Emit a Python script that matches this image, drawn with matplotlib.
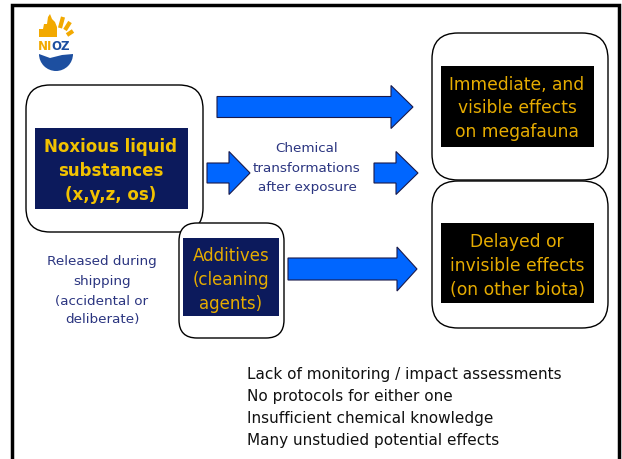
import numpy as np
import matplotlib.pyplot as plt
from matplotlib.patches import FancyBboxPatch, Rectangle, Polygon, Wedge

# ---------- texts ----------
source_lines = ["Noxious liquid", "substances", "(x,y,z, os)"]
additive_lines = ["Additives", "(cleaning", "agents)"]
immediate_lines = ["Immediate, and", "visible effects", "on megafauna"]
delayed_lines = ["Delayed or", "invisible effects", "(on other biota)"]
transform_lines = ["Chemical", "transformations", "after exposure"]
release_lines = ["Released during", "shipping", "(accidental or", "deliberate)"]
issues = ["Lack of monitoring / impact assessments",
          "No protocols for either one",
          "Insufficient chemical knowledge",
          "Many unstudied potential effects"]

NAVY = "#0c1a5c"
YELLOW = "#f2c200"
ORANGE = "#e6ac00"
BLUE = "#0066ff"
TXT = "#2b3580"
LOGO_Y = "#f2a900"
LOGO_B = "#1d4fa0"

W, H = 622, 459
fig = plt.figure(figsize=(W / 100, H / 100), dpi=100)
ax = fig.add_axes([0, 0, 1, 1])
ax.set_xlim(0, W)
ax.set_ylim(H, 0)
ax.axis("off")
ax.set_autoscale_on(False)

# slide frame (no bottom edge)
ax.plot([12, 12, 619, 619], [H + 5, 5, 5, H + 5], color="black", lw=2.5,
        solid_joinstyle="miter")


def rbox(x0, y0, x1, y1, r=22):
    ax.add_patch(FancyBboxPatch((x0 + r, y0 + r), x1 - x0 - 2 * r, y1 - y0 - 2 * r,
                                boxstyle=f"round,pad={r}", fc="white", ec="black",
                                lw=1.0, zorder=1))


def fillbox(x0, y0, x1, y1, color):
    ax.add_patch(Rectangle((x0, y0), x1 - x0, y1 - y0, fc=color, ec="none", zorder=2))


def lines(cx, ys, txt, **kw):
    for y, t in zip(ys, txt):
        ax.text(cx, y, t, ha="center", va="center", zorder=3, **kw)


def arrow(x0, x1, xh, yc, bh, hh):
    pts = [(x0, yc - bh / 2), (x1, yc - bh / 2), (x1, yc - hh / 2), (xh, yc),
           (x1, yc + hh / 2), (x1, yc + bh / 2), (x0, yc + bh / 2)]
    ax.add_patch(Polygon(pts, closed=True, fc=BLUE, ec="#1a1a4a", lw=0.8, zorder=2))


# rounded boxes
rbox(26, 85, 203, 232, r=24)
rbox(432, 33, 608, 180, r=26)
rbox(432, 181, 608, 328, r=26)
rbox(179, 223, 284, 338, r=18)

# filled boxes
fillbox(35, 128, 188, 209, NAVY)
fillbox(441, 66, 594, 147, "black")
fillbox(441, 223, 594, 303, "black")
fillbox(183, 238, 279, 316, NAVY)

lines(111, [147, 171, 195], source_lines, color=YELLOW, fontsize=12,
      fontweight="bold")
lines(517, [85, 108, 132], immediate_lines, color=ORANGE, fontsize=12.3)
lines(517, [242, 266, 290], delayed_lines, color=ORANGE, fontsize=12.3)
lines(231, [256, 280, 304], additive_lines, color=ORANGE, fontsize=12)

# arrows
arrow(217, 391, 413, 107, 21, 43)
arrow(207, 229, 250, 173, 20, 43)
arrow(374, 396, 418, 173, 20, 43)
arrow(288, 397, 417, 269, 22, 44)

lines(307, [148, 168, 188], transform_lines, color=TXT, fontsize=9.7)
lines(102, [261, 281, 301, 320], release_lines, color=TXT, fontsize=9.7)

for i, t in enumerate(issues):
    ax.text(247, 374 + i * 22, t, ha="left", va="center", color="#111111",
            fontsize=11)

# NIOZ logo (approximate)
ax.add_patch(Polygon([(39, 37), (39, 29), (43, 29), (44, 24), (47, 24),
                      (48, 17), (50, 14), (52, 19), (55, 22), (57, 27),
                      (57, 37)], closed=True, fc=LOGO_Y, ec="none"))
for x0, y0, x1, y1 in [(60, 28, 63, 17), (65, 30, 70, 22), (67, 35, 73, 31)]:
    ax.plot([x0, x1], [y0, y1], color=LOGO_Y, lw=3, solid_capstyle="butt")
ax.text(38, 46, "NI", color=LOGO_Y, fontsize=8.5, fontweight="bold",
        va="center", ha="left")
ax.text(51, 46, "OZ", color=LOGO_B, fontsize=8.5, fontweight="bold",
        va="center", ha="left")
ax.add_patch(Wedge((56, 54), 17, 0, 180, fc=LOGO_B, ec="none"))
ax.add_patch(Polygon([(39, 54), (50, 58), (62, 55), (73, 54), (73, 53),
                      (39, 53)], closed=True, fc="white", ec="none"))

fig.savefig("out.png", dpi=100)
